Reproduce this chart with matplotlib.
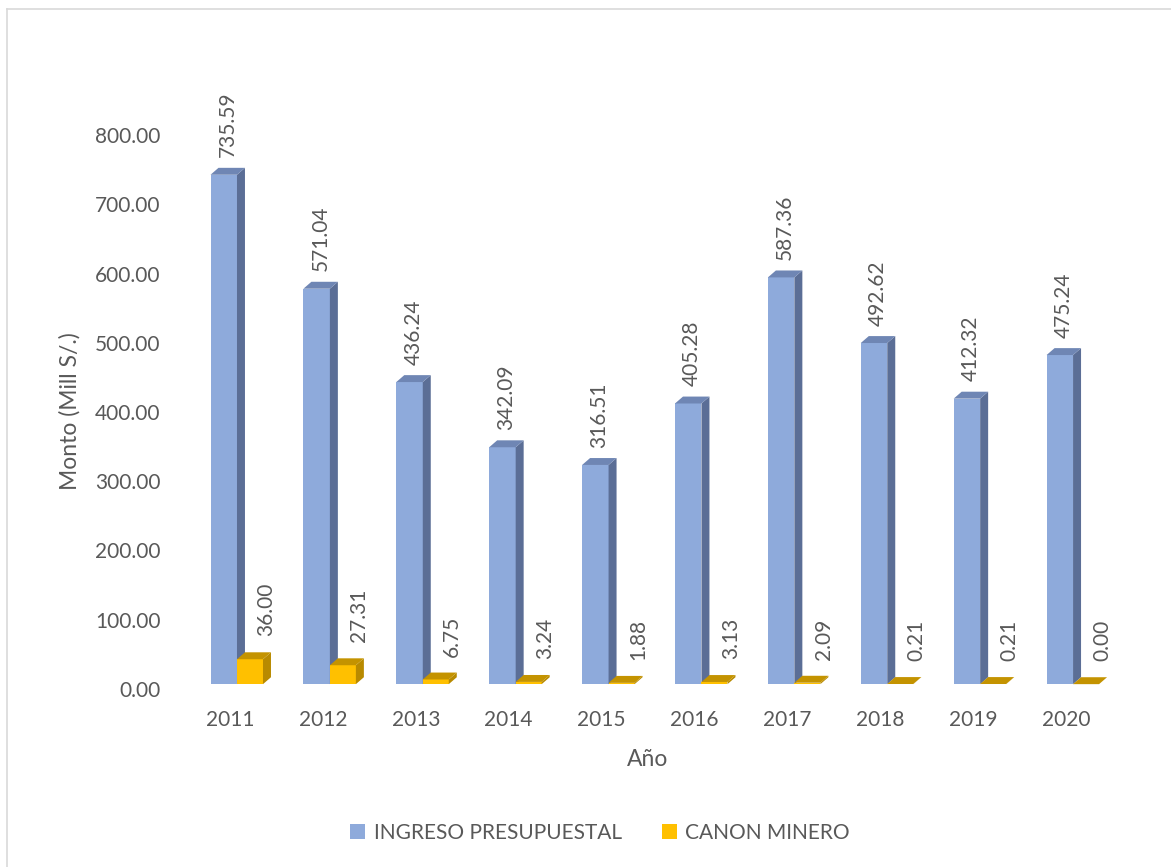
'''
Ingreso presupuestal y canon minero 2011-2020, barras con efecto 3D.
'''
import matplotlib
matplotlib.use('Agg')
import matplotlib.pyplot as plt
from matplotlib.patches import Polygon, Patch
from matplotlib.lines import Line2D

# datos
anios = ['2011', '2012', '2013', '2014', '2015', '2016', '2017', '2018', '2019', '2020']
ingreso = [735.59, 571.04, 436.24, 342.09, 316.51, 405.28, 587.36, 492.62, 412.32, 475.24]
canon = [36.00, 27.31, 6.75, 3.24, 1.88, 3.13, 2.09, 0.21, 0.21, 0.00]
yticks = [0, 100, 200, 300, 400, 500, 600, 700, 800]
series = ['INGRESO PRESUPUESTAL', 'CANON MINERO']

plt.rcParams['font.family'] = ['Lato', 'DejaVu Sans']
gris = '#595959'
fs = 15

W, H = 1171, 867
fig = plt.figure(figsize=(W/100, H/100), dpi=100)

# marco del grafico (solo se ven borde superior e izquierdo)
fig.add_artist(Line2D([7/W, 1], [1-9/H, 1-9/H], color='#d9d9d9', lw=1.2))
fig.add_artist(Line2D([7/W, 7/W], [0, 1-9/H], color='#d9d9d9', lw=1.2))

ax = fig.add_axes([170/W, (H-689)/H, 960/W, 649/H])
ax.set_xlim(-0.646, 9.688)
ax.set_ylim(0, 649/0.6925)

dx = 0.086   # profundidad horizontal (en unidades de categoria)
dy = 10      # profundidad vertical (en unidades de valor)
off = 7      # desplazamiento de la cara frontal

def caja(x0, x1, v, cf, cs, ct):
    y0 = off; y1 = v + off
    ax.add_patch(Polygon([(x0, y0), (x1, y0), (x1, y1), (x0, y1)], closed=True, fc=cf, ec='none'))
    ax.add_patch(Polygon([(x1, y0), (x1+dx, y0+dy), (x1+dx, y1+dy), (x1, y1)], closed=True, fc=cs, ec='none'))
    ax.add_patch(Polygon([(x0, y1), (x1, y1), (x1+dx, y1+dy), (x0+dx, y1+dy)], closed=True, fc=ct, ec='none'))

azul = ('#8eaadb', '#5b6e96', '#6f86b4')
amarillo = ('#ffc000', '#b88a00', '#c49300')

for i, v in enumerate(ingreso):
    caja(i-0.21, i+0.075, v, *azul)
    ax.text(i + (-0.21+0.075+dx)/2, v+off+dy+15, '%.2f' % v, rotation=90,
            ha='center', va='bottom', fontsize=fs, color=gris)

for i, v in enumerate(canon):
    caja(i+0.075, i+0.355, v, *amarillo)
    ax.text(i+0.39, v+off+dy+23, '%.2f' % v, rotation=90,
            ha='center', va='bottom', fontsize=fs, color=gris)

ax.set_yticks(yticks)
ax.set_yticklabels(['%.2f' % t for t in yticks])
ax.set_xticks(range(len(anios)))
ax.set_xticklabels(anios)
ax.tick_params(axis='both', length=0, labelsize=fs, labelcolor=gris)
ax.tick_params(axis='y', pad=7)
ax.tick_params(axis='x', pad=15)
for s in ax.spines.values():
    s.set_visible(False)

fig.text(648/W, 1-760/H, 'Año', ha='center', va='center', fontsize=16.5, color=gris)
fig.text(70/W, 1-411/H, 'Monto (Mill S/.)', ha='center', va='center', rotation=90,
         fontsize=16.5, color=gris)

handles = [Patch(fc=azul[0]), Patch(fc=amarillo[0])]
fig.legend(handles, series, loc='center', bbox_to_anchor=(600/W, 1-833/H), ncol=2,
           frameon=False, fontsize=fs, handlelength=0.75, handleheight=0.75,
           handletextpad=0.4, columnspacing=1.9, labelcolor=gris)

plt.savefig('out.png', dpi=100)
